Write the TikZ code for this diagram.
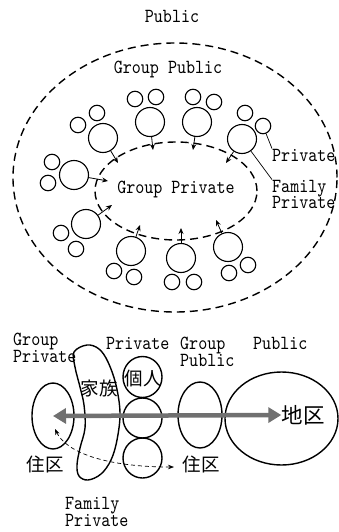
\documentclass[tikz,border=0pt]{standalone}
\usepackage{fontspec}
\newfontfamily\cjk{Noto Sans CJK JP}
\newfontfamily\latfam{lmmono10-regular.otf}[FakeStretch=0.86]
\usetikzlibrary{shapes.geometric,arrows.meta}
\definecolor{axisgray}{RGB}{112,112,112}
\newcommand{\latfont}{\latfam\fontsize{20}{16.5}\selectfont}
\begin{document}
\begin{tikzpicture}[x=1pt,y=-1pt,
  fam/.style={circle,draw,line width=1.1pt,minimum size=29pt,inner sep=0pt},
  prv/.style={circle,draw,line width=1.1pt,minimum size=15.5pt,inner sep=0pt},
  zone/.style={ellipse,draw,line width=1.4pt,dash pattern=on 8pt off 5pt,inner sep=0pt},
  blob/.style={ellipse,draw,line width=1.4pt,inner sep=0pt},
  lab/.style={font=\latfont,inner sep=0pt,anchor=base west},
  labc/.style={font=\latfont,inner sep=0pt,anchor=base},
  jp/.style={font=\cjk\fontsize{18.5}{18.5}\selectfont,inner sep=0pt},
  flow/.style={line width=0.8pt,-{Stealth[length=6pt,width=5pt]}},
  leader/.style={line width=0.7pt}
]
\path[use as bounding box,fill=white] (0,0) rectangle (339,532);

% ---------- top diagram ----------
\node[labc] (tpub) at (172,23) {Public};
\node[zone,minimum width=324pt,minimum height=269pt] (outer) at (175,177.5) {};
\node[zone,minimum width=162pt,minimum height=98pt] (inner) at (176,191) {};
\node[labc] (tgpub) at (168,74) {Group Public};
\node[labc] (tgpriv) at (176,193) {Group Private};

% groups: family circle + two private circles + arrow
\node[fam] (f1) at (103,138) {};
\node[prv] (p1a) at (78,125) {};
\node[prv] (p1b) at (97,113) {};
\coordinate (a1) at (118,163);

\node[fam] (f2) at (150,122) {};
\node[prv] (p2a) at (135,99) {};
\node[prv] (p2b) at (156,97) {};
\coordinate (a2) at (153,150);

\node[fam] (f3) at (197,122) {};
\node[prv] (p3a) at (193,97) {};
\node[prv] (p3b) at (214,102) {};
\coordinate (a3) at (193,150);

\node[fam] (f4) at (242,139) {};
\node[prv] (p4a) at (245,113) {};
\node[prv] (p4b) at (263,126) {};
\coordinate (a4) at (226,163);

\node[fam] (f5) at (74,175) {};
\node[prv] (p5a) at (52,162) {};
\node[prv] (p5b) at (48,183) {};
\coordinate (a5) at (108,181);

\node[fam] (f6) at (86,224) {};
\node[prv] (p6a) at (61,233) {};
\node[prv] (p6b) at (76,249) {};
\coordinate (a6) at (112,205);

\node[fam] (f7) at (131,251) {};
\node[prv] (p7a) at (114,271) {};
\node[prv] (p7b) at (134,277) {};
\coordinate (a7) at (140,225);

\node[fam] (f8) at (181,258) {};
\node[prv] (p8a) at (172,282) {};
\node[prv] (p8b) at (194,282) {};
\coordinate (a8) at (181,228);

\node[fam] (f9) at (228,247) {};
\node[prv] (p9a) at (229,273) {};
\node[prv] (p9b) at (248,265) {};
\coordinate (a9) at (216,220);

\foreach \i in {1,...,9} {\draw[flow] (f\i) -- (a\i);}

\node[lab] (lpriv) at (272,161) {Private};
\node[lab] (lfam1) at (272,192) {Family};
\node[lab] (lfam2) at (272,208) {Private};
\draw[leader] (p4b) -- (lpriv.north west);
\draw[leader] (f4) -- (lfam1.north west);

% ---------- bottom diagram ----------
\node[lab] (bgp1) at (13,345) {Group};
\node[lab] (bgp2) at (13,362) {Private};
\node[lab] (bpr) at (106,349) {Private};
\node[lab] (bgu1) at (180,349) {Group};
\node[lab] (bgu2) at (180,366) {Public};
\node[lab] (bpu) at (253,349) {Public};
\node[lab] (bfp1) at (65,509) {Family};
\node[lab] (bfp2) at (65,526) {Private};

\node[blob,minimum width=42pt,minimum height=66pt] (jk) at (53,416) {};
\draw[line width=1.4pt] plot[smooth cycle,tension=0.6] coordinates {
  (87,345) (99,349) (108,362) (116,385) (120,413) (117,440) (111,460)
  (101,474) (88,480) (79,476) (77,465) (80,448) (85,428) (84,405)
  (80,387) (75,367) (74,352)};
\node[blob,minimum width=39pt,minimum height=41pt] (c1) at (142.5,377) {};
\node[blob,minimum width=39pt,minimum height=40pt] (c2) at (142.5,418) {};
\node[blob,minimum width=39pt,minimum height=40pt] (c3) at (142.5,458) {};
\node[blob,minimum width=44pt,minimum height=66pt] (gpub) at (200,415) {};
\node[blob,minimum width=113pt,minimum height=93pt] (pub) at (281.5,418.5) {};

\node[jp] (kazoku) at (99,388) {家族};
\node[jp] (kojin) at (143,379) {個人};
\node[jp] (jukuL) at (45,464) {住区};
\node[jp] (jukuR) at (201,464) {住区};
\node[jp,font=\cjk\fontsize{21.5}{21.5}\selectfont] (chiku) at (303,415) {地区};

\draw[line width=4.5pt,axisgray,{Triangle[length=13pt,width=15pt]}-{Triangle[length=13pt,width=15pt]}]
  (jk.center) -- (chiku.west);

\coordinate (dl) at (55,429);
\coordinate (dr) at (174,467);
\draw[line width=0.7pt,dash pattern=on 4pt off 3pt,{Stealth[length=6pt,width=4.5pt]}-{Stealth[length=6pt,width=4.5pt]}]
  (dl) .. controls (66,452) and (105,467) .. (dr);
\end{tikzpicture}
\end{document}
